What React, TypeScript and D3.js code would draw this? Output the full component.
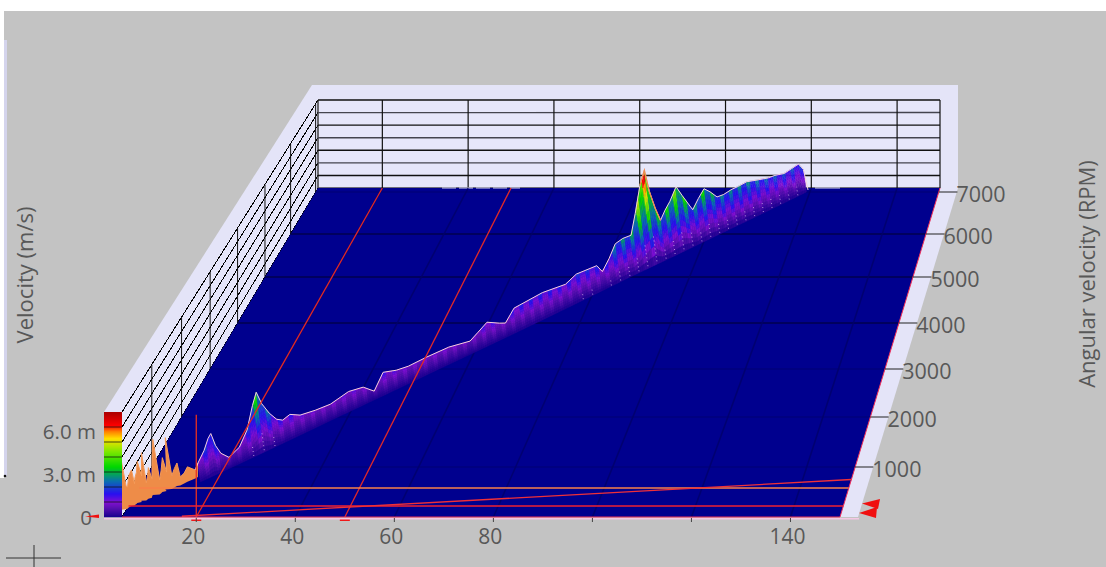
import * as d3 from "d3";

const width = 1106;
const height = 567;

// frequency axis (Hz)
const freqMin = 5;
const freqMax = 150;
const freqTicks = [20, 40, 60, 80, 100, 120, 140];
const freqLabels = [20, 40, 60, 80, 140];

// angular velocity axis (RPM)
const rpmTicks = [0, 1000, 2000, 3000, 4000, 5000, 6000, 7000];
const rpmLabels = [1000, 2000, 3000, 4000, 5000, 6000, 7000];
const rpmRows = [517, 467, 417, 369, 323, 277, 234, 192];
const rpmBack = 7095;

// velocity axis (m/s)
const velocityMax = 7.4;
const velocityLabels = ["0", "3.0 m", "6.0 m"];
const velocityValues = [0, 3, 6];
const colorStops = [0, 0.6, 1.0, 1.6, 2.5, 3.5, 4.6, 5.5, 6, 6.4, 7.4];
const colorValues = ["#1c0090", "#5a10b0", "#8010d0", "#2a10f0", "#0a70b0", "#00d800", "#80e800", "#ffe000", "#ff8000", "#ff0000", "#a80000"];

// first order ridge: amplitude read along the run-up
const orderRpm = [
  20, 44, 55, 66, 90, 120, 130, 140, 160, 180, 200, 226, 232, 250, 268, 285, 310, 340, 350, 375, 400, 420, 450, 460, 490, 520, 532, 570, 606, 670,
  702, 770, 820, 850, 876, 914, 980, 1084, 1172, 1250, 1300, 1334, 1390, 1448, 1500, 1572,
  1662, 1804, 1948, 2130, 2270, 2366, 2473, 2598, 2716, 2896, 3122, 3334, 3423, 3523, 3642,
  3701, 3805, 4104, 4343, 4465, 4681, 4729, 4815, 4897, 4980, 5070, 5145, 5234, 5302, 5322,
  5359, 5397, 5458, 5522, 5608, 5660, 5749, 5824, 5899, 5958, 6025, 6100, 6186, 6270, 6365,
  6480, 6605, 6680, 6785, 6870, 6955, 7000, 7020,
];
const orderAmp = [
  2.75, 3.86, 2.0, 1.88, 2.6, 2.9, 1.9, 2.27, 2.6, 3.3, 2.2, 3.75, 1.6, 2.0, 2.55, 1.7, 3.0, 4.3, 1.4, 2.0, 2.8, 1.7, 4.05, 1.3, 1.7, 2.0, 0.96, 1.1, 1.42, 0.97,
  1.35, 2.0, 2.7, 2.95, 2.0, 1.3, 0.77, 1.13, 2.05, 3.55, 4.35, 3.4, 2.5, 1.85, 1.6, 1.76,
  1.38, 1.22, 1.14, 1.43, 1.26, 0.62, 1.65, 1.36, 1.24, 1.27, 1.24, 0.96, 1.33, 1.75, 1.26,
  1.06, 1.85, 2.0, 1.8, 2.17, 2.06, 1.42, 2.15, 3.02, 3.15, 3.1, 4.6, 6.56, 7.55, 5.8,
  4.3, 3.2, 3.8, 4.3, 5.2, 4.3, 2.85, 3.5, 4.05, 3.6, 2.95, 2.9, 3.0, 3.0, 3.05,
  2.8, 2.55, 2.5, 2.3, 2.4, 2.5, 1.9, 0.1,
];
const noiseEnd = 700;

// cursors
const cursorFreqs = [20, 50];
const cursorRpmRed = 220;
const cursorRpmOrange = 580;

const frontX = d3.scaleLinear().domain([freqMin, freqMax]).range([122, 840]);
const backX = d3.scaleLinear().domain([freqMin, freqMax]).range([318, 940]);
const rowY = d3.scaleLinear().domain(rpmTicks).range(rpmRows);
const depth = d3.scaleLinear().domain([517, 188]).range([0, 1]);
const wallPx = d3.scaleLinear().domain([0, 1]).range([105, 88]);
const color = d3.scaleLinear<string>().domain(colorStops).range(colorValues).clamp(true);
const ampAt = d3.scaleLinear().domain(orderRpm).range(orderAmp).clamp(true);

// the ridge follows this line on the floor
const ridgeFreq = (rpm: number) => 5.4 + rpm / 61.5;

const project = (f: number, rpm: number, z = 0, lean = 0): [number, number] => {
  const y = rowY(rpm);
  const t = depth(y);
  const x = frontX(f) + (backX(f) - frontX(f)) * t;
  const h = (z / velocityMax) * wallPx(t);
  return [x - lean * h, y - h];
};

const ridgePoint = (rpm: number, z: number) => project(ridgeFreq(rpm), rpm, z, 0.14);

const poly = (pts: [number, number][]) => `M${pts.map((p) => p.join(",")).join("L")}Z`;
const line = d3.line();
const seg = (a: [number, number], b: [number, number]) => line([a, b]) as string;

const gridLevels = d3.range(8).map((i) => (i / 7) * velocityMax);
const bandCount = 10;
const sweepStep = 20;
const stripeStep = 100;

const Ridge = () => {
  const rpms = d3.range(noiseEnd, 7000, sweepStep);
  const bands = rpms.flatMap((r) => {
    const r2 = r + sweepStep;
    const a1 = ampAt(r);
    const a2 = ampAt(r2);
    const stripe = (r % stripeStep) / stripeStep < 0.5 ? 0.68 : 1;
    return d3.range(bandCount).map((b) => {
      const lo = b / bandCount;
      const hi = (b + 1) / bandCount;
      const level = ((a1 + a2) / 2) * ((lo + hi) / 2) * stripe * 0.95;
      return {
        key: `${r}-${b}`,
        d: poly([ridgePoint(r, a1 * lo), ridgePoint(r, a1 * hi), ridgePoint(r2, a2 * hi), ridgePoint(r2, a2 * lo)]),
        fill: color(level),
      };
    });
  });
  const dots = d3.range(1000, 7000, stripeStep).filter((r) => ampAt(r) > 2);
  const pts = orderRpm.map((r, i) => ({ r, a: orderAmp[i] }));
  const top = d3.line<{ r: number; a: number }>().x((d) => ridgePoint(d.r, d.a)[0]).y((d) => ridgePoint(d.r, d.a)[1]);
  const noise = pts.filter((d) => d.r <= noiseEnd + 10);
  const noiseArea = d3
    .area<{ r: number; a: number }>()
    .x((d) => ridgePoint(d.r, d.a)[0])
    .y1((d) => ridgePoint(d.r, d.a)[1])
    .y0((d) => ridgePoint(d.r, 0.35)[1]);
  return (
    <g>
      {bands.map((b) => (
        <path key={b.key} d={b.d} fill={b.fill} stroke={b.fill} strokeWidth={0.4} />
      ))}
      {dots.map((r) => (
        <path
          key={r}
          d={seg(ridgePoint(r, ampAt(r) * 0.03), ridgePoint(r, ampAt(r) * 0.32))}
          stroke="#ffd8ff"
          strokeOpacity={0.65}
          strokeWidth={1}
          strokeDasharray="1 3"
        />
      ))}
      <path d={noiseArea(noise) as string} fill="#ee8c48" />
      <path d={top(noise) as string} fill="none" stroke="#f59a58" strokeWidth={1} />
      <path d={top(pts.filter((d) => d.r >= noiseEnd - 40)) as string} fill="none" stroke="#f7d0dc" strokeWidth={1} />
      <path d={top(pts.filter((d) => d.r >= 5200 && d.r <= 5400)) as string} fill="none" stroke="#f08a50" strokeWidth={1.3} />
    </g>
  );
};

const App = () => {
  const floor: [number, number][] = [
    project(freqMin, 0),
    project(freqMax, 0),
    project(freqMax, rpmBack),
    project(freqMin, rpmBack),
  ];
  const frame: [number, number][] = [[104, 412], [312, 85], [958, 85], [958, 188], [858, 517], [104, 517]];
  const wall: [number, number][] = [
    project(freqMin, 0),
    project(freqMin, 0, velocityMax),
    project(freqMin, rpmBack, velocityMax),
    [940, 100],
    [940, 188],
    project(freqMin, rpmBack),
  ];
  const outerX = d3.scaleLinear().domain([517, 190]).range([858, 958]);
  const barRows = d3.range(0, 105);

  return (
    <svg
      width={width}
      height={height}
      style={{ position: "fixed", left: 0, top: 0, background: "#c3c3c3", fontFamily: "'Open Sans', sans-serif" }}
    >
      <rect x={0} y={0} width={width} height={11} fill="#fff" />
      <rect x={0} y={0} width={4} height={height} fill="#fff" />
      <rect x={0} y={478} width={4} height={89} fill="#c3c3c3" />
      <rect x={4} y={40} width={3} height={436} fill="#d4d4ec" />
      <circle cx={5} cy={476} r={1.3} fill="#111" />

      <path d={poly(frame)} fill="#e4e4f8" />
      <path d={poly(wall)} fill="#e6e6fa" />

      {/* left wall */}
      <g stroke="#000" strokeWidth={1} shapeRendering="crispEdges">
        {gridLevels.map((z) => (
          <path key={z} d={seg(project(freqMin, 0, z), project(freqMin, rpmBack, z))} fill="none" />
        ))}
      </g>
      {rpmTicks.slice(1).map((r) => (
        <path key={r} d={seg(project(freqMin, r), project(freqMin, r, velocityMax))} stroke="#111" strokeWidth={1} />
      ))}
      <path d={seg([318, 100], [318, 188])} stroke="#333" strokeWidth={1.4} />

      {/* back wall */}
      {gridLevels.map((z, i) => (
        <path
          key={z}
          d={seg(project(freqMin, rpmBack, z), [940, 188 - (z / velocityMax) * 88])}
          stroke={i % 2 ? "#111" : "#44444f"}
          strokeWidth={1.4}
        />
      ))}
      {[...freqTicks, freqMax].map((f) => (
        <path key={f} d={seg([backX(f), 100], [backX(f), 188])} stroke="#111" strokeWidth={1.2} />
      ))}

      {/* floor */}
      <path d={poly(floor)} fill="#00008e" />
      <path d={seg([442, 188], [520, 188])} stroke="#d8d8f0" strokeWidth={1} strokeDasharray="14 3" />
      <path d={seg([815, 188], [840, 188])} stroke="#d8d8f0" strokeWidth={1} />
      {rpmTicks.slice(1).map((r) => (
        <path
          key={r}
          d={seg(project(freqMin, r), project(freqMax, r))}
          stroke="#000048"
          strokeOpacity={r >= 4000 && r < 7000 ? 0.9 : 0.25}
          strokeWidth={1.4}
        />
      ))}
      {freqTicks.map((f) => (
        <path key={f} d={seg(project(f, 0), project(f, rpmBack))} stroke="#00006a" strokeOpacity={0.8} strokeWidth={1.6} />
      ))}

      <Ridge />

      {/* cursors */}
      <g fill="none" strokeWidth={1.3}>
        {cursorFreqs.map((f) => (
          <path key={f} d={seg(project(f, 0), project(f, rpmBack))} stroke="#e02828" />
        ))}
        <path d={seg(project(20, 0), project(20, 0, 7.2))} stroke="#e83020" />
        <path d={seg(project(freqMin, cursorRpmOrange), project(freqMax, cursorRpmOrange))} stroke="#f88048" />
        <path d={seg(project(freqMin, cursorRpmRed), project(freqMax, cursorRpmRed))} stroke="#f02030" />
        <path d={seg(project(17, 15), project(freqMax, 750))} stroke="#f03038" />
        {cursorFreqs.map((f) => (
          <path key={f} d={seg([frontX(f) - 5, 520], [frontX(f) + 5, 520])} stroke="#f01818" strokeWidth={2} />
        ))}
      </g>
      <path d={seg(project(freqMin, 0), project(freqMax, 0))} stroke="#f2305a" strokeWidth={1} />
      <path d={seg(project(freqMax, 0), project(freqMax, rpmBack))} stroke="#f2305a" strokeWidth={1} />
      <rect x={104} y={518} width={755} height={1.5} fill="#f4c8e4" />

      {/* axis ticks */}
      {freqTicks.map((f) => (
        <path key={f} d={seg([frontX(f), 518], [frontX(f), 522])} stroke="#444" />
      ))}
      {freqLabels.map((f) => (
        <text key={f} x={frontX(f) - 3} y={544} textAnchor="middle" fontSize={21} fill="#585858">
          {f}
        </text>
      ))}
      {rpmLabels.map((r) => (
        <g key={r}>
          <path d={seg(project(freqMax, r), [outerX(rowY(r)), rowY(r)])} stroke="#222" strokeWidth={1} />
          <text x={outerX(rowY(r)) - 1} y={rowY(r) + 10} fontSize={21.5} fill="#585858">
            {r}
          </text>
        </g>
      ))}

      {/* colour bar */}
      {barRows.map((i) => (
        <rect key={i} x={104} y={516 - i} width={18} height={1.2} fill={color((i / 105) * velocityMax)} />
      ))}
      {gridLevels.slice(1, 7).map((z) => (
        <path key={z} d={seg([104, 517 - (z / velocityMax) * 105], [122, 517 - (z / velocityMax) * 105])} stroke="#111" strokeOpacity={0.75} />
      ))}
      {velocityValues.map((v, i) => (
        <text key={v} x={v === 0 ? 92 : 96} y={517 - v * 14.2 + 7.5} textAnchor="end" fontSize={20.5} fill="#585858">
          {velocityLabels[i]}
        </text>
      ))}

      {/* markers */}
      <path d="M85,516.5L99,514.5L99,518Z" fill="#f01010" />
      <path d="M862,503.5L880,499L878,509Z" fill="#f01010" />
      <path d="M859,513L877,507L876,518Z" fill="#f01010" />

      {/* crosshair */}
      <path d={seg([6, 558], [61, 558])} stroke="#333" strokeWidth={1} />
      <path d={seg([34, 545], [34, 567])} stroke="#333" strokeWidth={1} />

      <text transform="translate(33,275) rotate(-90)" textAnchor="middle" fontSize={22} fill="#585858">
        Velocity (m/s)
      </text>
      <text transform="translate(1095,274) rotate(-90)" textAnchor="middle" fontSize={22} fill="#585858">
        Angular velocity (RPM)
      </text>
    </svg>
  );
};

export default App;
